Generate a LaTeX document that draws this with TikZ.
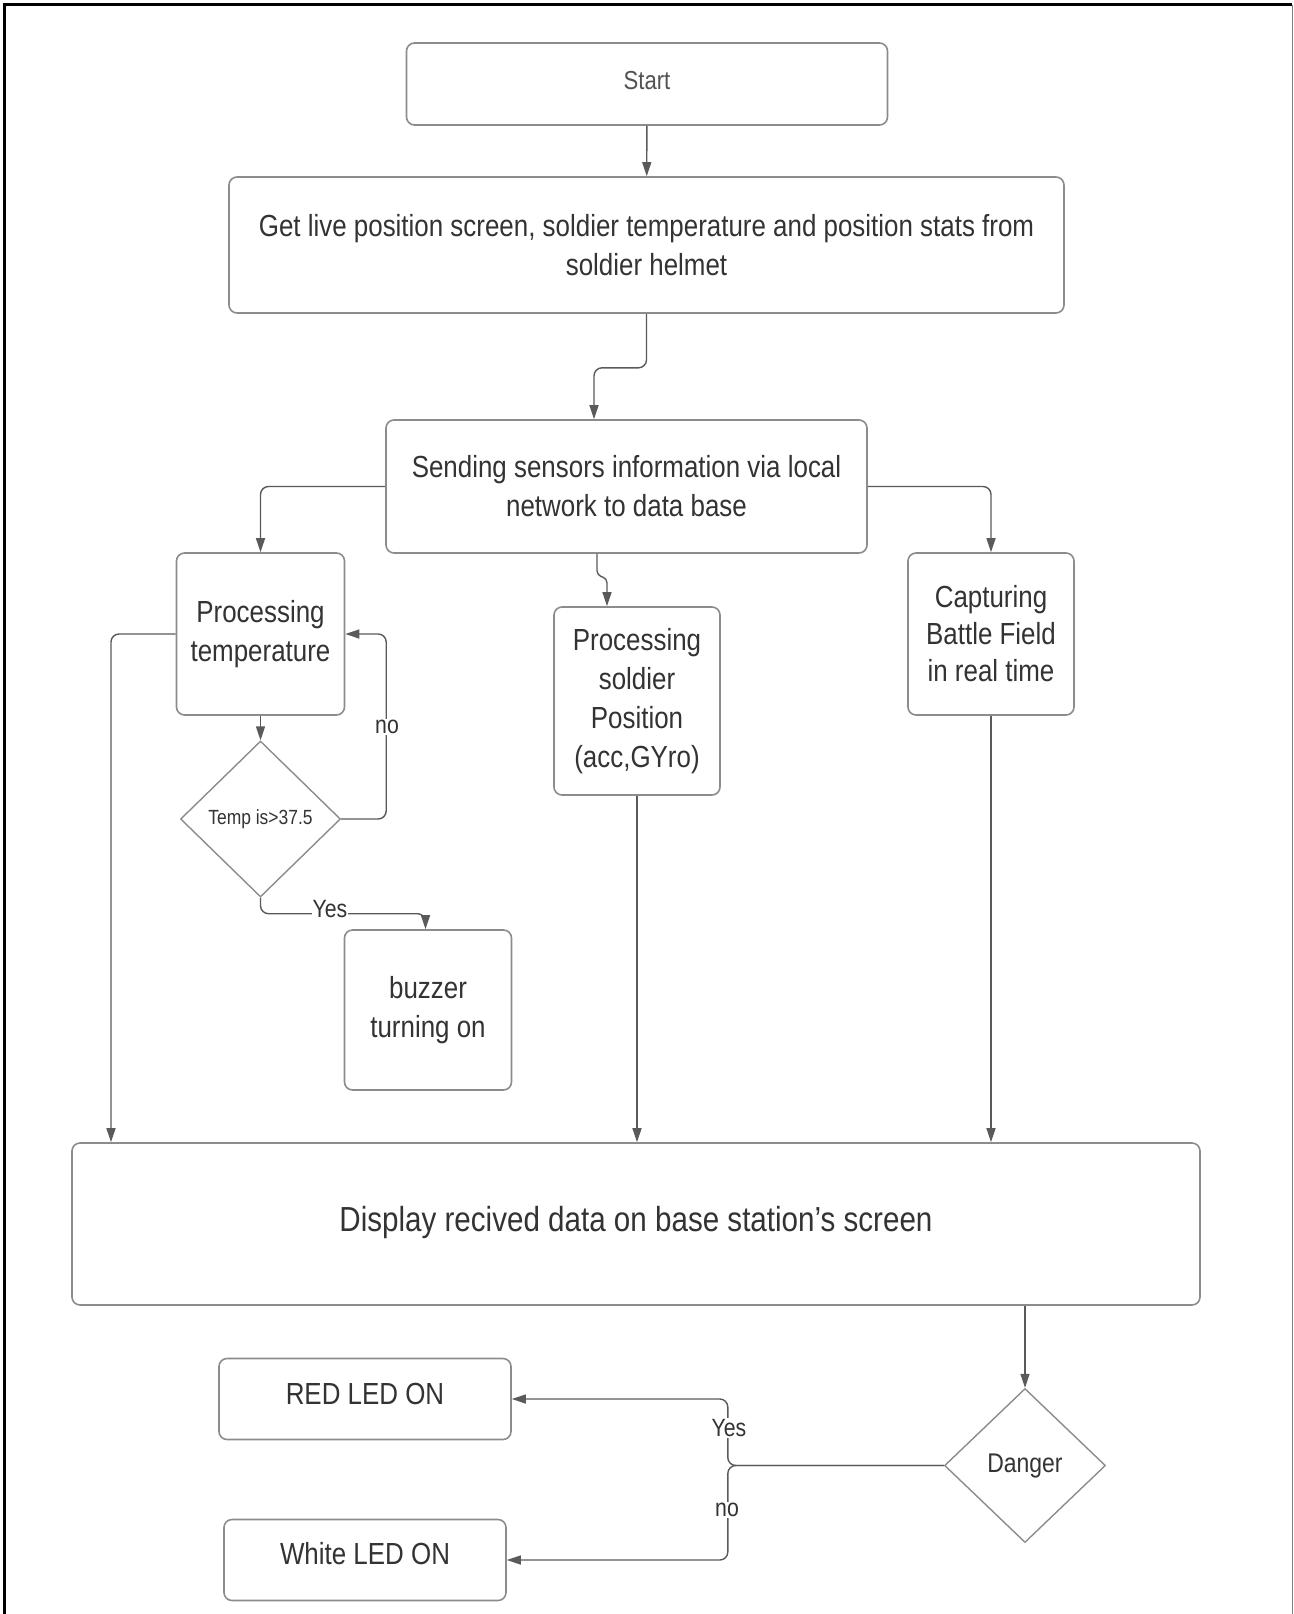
\documentclass[tikz,border=0pt]{standalone}
\usepackage{fontspec}
\setmainfont{Liberation Sans}[FakeStretch=0.85]
\usetikzlibrary{arrows.meta,shapes.geometric}
\definecolor{txt}{HTML}{333333}
\definecolor{edge}{HTML}{8C8C8C}
\definecolor{wire}{HTML}{5A5A5A}
% raise a one-line text without changing the size it reports
\newcommand\liftby[2]{\raisebox{#1}[\height][\depth]{#2}}
\tikzset{
  box/.style={draw=edge, line width=1.6pt, rounded corners=8pt, fill=white, text=txt,
    align=center, inner sep=0pt, font=\fontsize{30.5}{39}\selectfont},
  decision/.style={draw=edge, line width=1.4pt, diamond, aspect=1, inner sep=0pt,
    fill=white, text=txt},
  conn/.style={draw=wire, line width=1.4pt, rounded corners=8pt,
    -{Triangle[length=14pt,width=9pt]}},
  lbl/.style={fill=white, inner sep=1pt, text=txt, font=\fontsize{25}{30}\selectfont},
}
\begin{document}
\begin{tikzpicture}[x=1pt,y=-1pt]
\useasboundingbox (0,0) rectangle (1293,1614);
% page frame
\draw[line width=2.5pt, black] (4.5,1614) -- (4.5,4.5) -- (1292,4.5);
\draw[line width=1.5pt, gray] (1292.3,4.5) -- (1292.3,1614);

% boxes
\node[box, minimum width=481pt, minimum height=82pt, font=\fontsize{26}{31}\selectfont, text=txt!85] (start) at (647,84) {\liftby{3pt}{Start}};
\node[box, minimum width=835pt, minimum height=136pt] (live) at (646.5,245)
  {Get live position screen, soldier temperature and position stats from\\soldier helmet};
\node[box, minimum width=481pt, minimum height=133pt] (send) at (626.5,486.5)
  {Sending sensors information via local\\network to data base};
\node[box, minimum width=168pt, minimum height=162pt] (ptemp) at (260.5,634) {Processing\\temperature};
\node[decision, minimum width=160pt, minimum height=156pt, font=\fontsize{20.5}{24}\selectfont] (tdia) at (260.5,819) {Temp is>37.5};
\node[box, minimum width=167pt, minimum height=160pt] (buzz) at (428,1010) {buzzer\\turning on};
\node[box, minimum width=166pt, minimum height=188pt] (psol) at (637,701) {Processing\\soldier\\Position\\(acc,GYro)};
\node[box, minimum width=166pt, minimum height=162pt, font=\fontsize{30.5}{37}\selectfont] (capt) at (991,634) {Capturing\\Battle Field\\in real time};
\node[box, minimum width=1128pt, minimum height=162pt, font=\fontsize{34.8}{40}\selectfont] (disp) at (636,1224)
  {\liftby{2pt}{Display recived data on base station’s screen}};
\node[decision, minimum width=161pt, minimum height=154pt, font=\fontsize{27}{30}\selectfont] (dang) at (1025,1465.5) {Danger};
\node[box, minimum width=292pt, minimum height=81pt] (red) at (365,1399) {\liftby{5pt}{RED LED ON}};
\node[box, minimum width=282pt, minimum height=81pt] (white) at (365,1560) {\liftby{6pt}{White LED ON}};

% connectors
\draw[conn] (start) -- (live);
\draw[conn] (live.south) -- ++(0,54) -| ([xshift=-32.5pt]send.north);
\draw[conn] (send.west) -| (ptemp.north);
\draw[conn] (send.east) -| (capt.north);
\draw[conn, rounded corners=4pt] ([xshift=-29.5pt]send.south) -- ++(0,21) -- ++(10,4) -- ([xshift=-30pt]psol.north);
\draw[conn] (ptemp.west) -| ([xshift=-525pt]disp.north);
\draw[conn] (ptemp) -- (tdia);
\draw[conn] (tdia.east) -- ++(45,0) |- (ptemp.east);
\draw[conn] (tdia.south) -- ++(0,16) -| ([xshift=-2.5pt]buzz.north);
\draw[conn] (psol.south) -- (psol.south |- disp.north);
\draw[conn] (capt.south) -- (capt.south |- disp.north);
\draw[conn] (disp.south -| dang.north) -- (dang.north);
\draw[conn] (dang.west) -- ++(-216,0) |- (red.east);
\draw[conn] (dang.west) -- ++(-216,0) |- (white.east);

% branch labels
\node[lbl] (tno) at (387,727) {no};
\node[lbl] (tyes) at (330,909) {Yes};
\node[lbl] (dyes) at (729,1428) {Yes};
\node[lbl] (dno) at (727,1510) {no};
\end{tikzpicture}
\end{document}
